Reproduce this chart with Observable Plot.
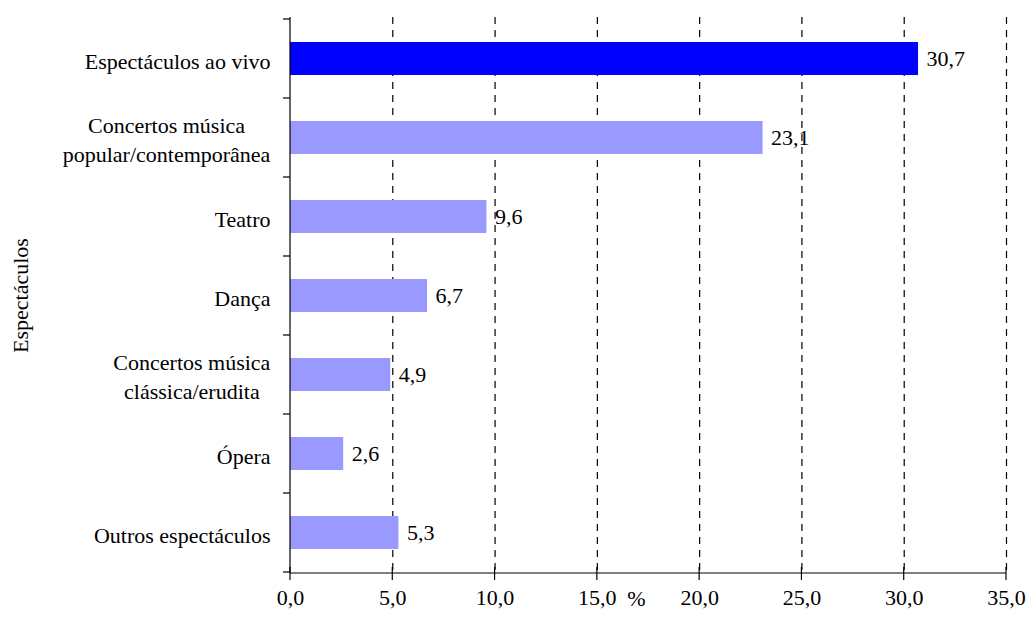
<!DOCTYPE html>
<html><head><meta charset="utf-8">
<script src="https://cdn.jsdelivr.net/npm/d3@7"></script>
<script src="https://cdn.jsdelivr.net/npm/@observablehq/plot@0.6"></script>
<style>
body{margin:0;background:#fff;}
#chart svg{font-family:"Liberation Serif",serif;}
</style></head><body><div id="chart"></div>
<script>
const categories = [
  "Espectáculos ao vivo",
  "Concertos música\npopular/contemporânea",
  "Teatro",
  "Dança",
  "Concertos música\nclássica/erudita",
  "Ópera",
  "Outros espectáculos"
];
const values = [30.7, 23.1, 9.6, 6.7, 4.9, 2.6, 5.3];
const highlighted = ["Espectáculos ao vivo"];
const xTicks = [0, 5, 10, 15, 20, 25, 30, 35];
const gridTicks = [5, 10, 15, 20, 25, 30, 35];
const xLabel = "%";
const yLabel = "Espectáculos";
const colorMain = "#0000FF";
const colorOther = "#9999FF";

const data = categories.map((c, i) => ({category: c, value: values[i], hi: highlighted.includes(c)}));
const fmt = v => v.toFixed(1).replace(".", ",");

function axesLines(index, scales, vals, dims) {
  const g = d3.create("svg:g").attr("stroke", "#000").attr("fill", "none").attr("stroke-width", 1.2);
  const x = scales.x, y = scales.y;
  const x0 = x(0);
  const top = dims.marginTop, bottom = dims.height - dims.marginBottom;
  g.append("path").attr("d", `M${x0},${top}V${bottom}`);
  const dom = y.domain();
  const bounds = dom.map(c => y(c)).concat([y(dom[dom.length - 1]) + y.bandwidth()]);
  for (const b of bounds) g.append("path").attr("d", `M${x0 - 7},${b}H${x0}`);
  g.append("path").attr("d", `M${x0},${bottom}H${x(xTicks[xTicks.length - 1])}`);
  for (const t of xTicks) g.append("path").attr("d", `M${x(t)},${bottom - 6}V${bottom + 7}`);
  return g.node();
}

const plot = Plot.plot({
  width: 1030,
  height: 619,
  marginTop: 17,
  marginBottom: 46,
  marginLeft: 290,
  marginRight: 24,
  style: {fontSize: "22px", fontFamily: "'Liberation Serif', serif", color: "#000", background: "#fff"},
  x: {domain: [0, 35]},
  y: {domain: categories, padding: 0},
  color: {type: "identity"},
  marks: [
    Plot.gridX(gridTicks, {stroke: "#000", strokeOpacity: 1, strokeDasharray: "7,6", strokeWidth: 1.2}),
    Plot.barX(data, {x: "value", y: "category", fill: d => d.hi ? colorMain : colorOther, insetTop: 23, insetBottom: 23}),
    Plot.text(data, {x: "value", y: "category", text: d => fmt(d.value), textAnchor: "start", dx: 8, fontSize: 22, fill: "#000"}),
    Plot.axisX({ticks: xTicks, tickSize: 0, tickPadding: 16, tickFormat: fmt, fontSize: 22, label: xLabel, labelAnchor: "center", labelArrow: false, labelOffset: 32}),
    Plot.axisY({tickSize: 0, tickPadding: 20, fontSize: 22, lineHeight: 1.35, label: yLabel, labelAnchor: "center", labelOffset: 278, labelArrow: false}),
    axesLines
  ]
});
document.getElementById("chart").append(plot);

plot.querySelectorAll('g[aria-label="y-axis tick label"] text').forEach(t => {
  if (t.querySelectorAll("tspan").length > 1) {
    const w = t.getBBox().width;
    t.setAttribute("text-anchor", "middle");
    const tr = t.getAttribute("transform") || "";
    t.setAttribute("transform", tr + ` translate(${-w / 2},0)`);
  }
});
plot.querySelectorAll('g[aria-label="x-axis label"] text').forEach(t => {
  const tr = t.getAttribute("transform") || "";
  t.setAttribute("transform", tr + " translate(-12,0)");
});
</script></body></html>
